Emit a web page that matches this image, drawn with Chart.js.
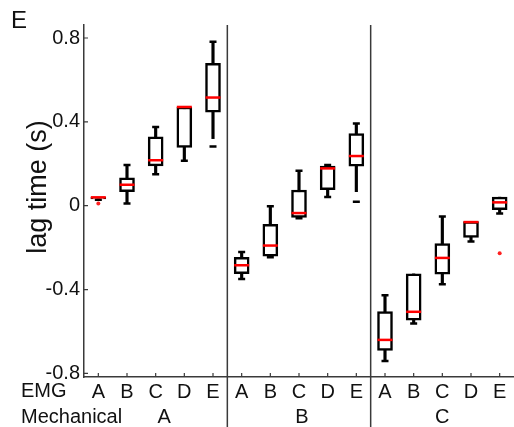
<!DOCTYPE html>
<html>
<head>
<meta charset="utf-8">
<script src="https://cdn.jsdelivr.net/npm/chart.js@4.4.0/dist/chart.umd.min.js"></script>
<style>
  html, body { margin: 0; padding: 0; background: #fff; }
  #wrap { width: 514px; height: 427px; }
</style>
</head>
<body>
<div id="wrap"><canvas id="lagChart" width="514" height="427"></canvas></div>
<script>
// EMG categories, repeated for each mechanical group
const emgLabels = ['A', 'B', 'C', 'D', 'E', 'A', 'B', 'C', 'D', 'E', 'A', 'B', 'C', 'D', 'E'];
const mechLabels = ['A', 'B', 'C'];
const mechCenters = [2.3, 7.1, 12];   // category position of each mechanical label
const groupBreaks = [4.5, 9.5];
const yTicks = [0.8, 0.4, 0, -0.4, -0.8];

// box summaries, lag time (s)
const whiskerLow  = [0.028, 0.01, 0.15, 0.214, 0.32, -0.349, -0.246, -0.06, 0.041, 0.067, -0.741, -0.562, -0.375, -0.171, -0.037];
const boxLow      = [0.032, 0.067, 0.19, 0.278, 0.446, -0.324, -0.241, -0.056, 0.076, 0.189, -0.69, -0.546, -0.327, -0.151, -0.019];
const medians     = [0.04, 0.1, 0.217, 0.471, 0.516, -0.284, -0.19, -0.035, 0.178, 0.237, -0.64, -0.506, -0.249, -0.078, 0.016];
const boxHigh     = [0.04, 0.133, 0.329, 0.471, 0.679, -0.246, -0.089, 0.075, 0.189, 0.344, -0.505, -0.325, -0.181, -0.076, 0.041];
const whiskerHigh = [0.04, 0.194, 0.375, 0.471, 0.782, -0.221, -0.002, 0.167, 0.194, 0.392, -0.427, -0.325, -0.052, -0.076, 0.041];
// caps at the whisker ends (none where the whisker stops short of a dash)
const lowCaps  = [0.028, 0.01, 0.15, 0.214, null, -0.349, -0.246, -0.06, 0.041, null, -0.741, -0.562, -0.375, -0.171, -0.037];
const highCaps = [null, 0.194, 0.375, null, 0.782, -0.221, -0.002, 0.167, 0.194, 0.392, -0.427, null, -0.052, null, null];
const redOutliers   = [0.01, null, null, null, null, null, null, null, null, null, null, null, null, null, -0.227];
const blackOutliers = [null, null, null, null, 0.283, null, null, null, null, 0.019, null, null, null, null, null];

const FONT = '"Liberation Sans", Arial, sans-serif';
const AXIS_COLOR = '#3a3a3a';

// ticks inside, group separators, row labels
const framePlugin = {
  id: 'frame',
  afterDraw(chart) {
    const { ctx, chartArea } = chart;
    const x = chart.scales.x, y = chart.scales.y;
    ctx.save();
    ctx.strokeStyle = AXIS_COLOR;
    ctx.lineWidth = 1.2;
    ctx.beginPath();
    yTicks.forEach(v => {
      const py = y.getPixelForValue(v);
      ctx.moveTo(chartArea.left, py);
      ctx.lineTo(chartArea.left + 4, py);
    });
    emgLabels.forEach((l, i) => {
      const px = x.getPixelForValue(i);
      ctx.moveTo(px, chartArea.bottom);
      ctx.lineTo(px, chartArea.bottom - 4);
    });
    ctx.stroke();

    ctx.lineWidth = 1.5;
    ctx.beginPath();
    groupBreaks.forEach(b => {
      const px = x.getPixelForValue(b);
      ctx.moveTo(px, chartArea.top);
      ctx.lineTo(px, chart.height);
    });
    ctx.stroke();

    ctx.fillStyle = '#111';
    ctx.font = '20px ' + FONT;
    ctx.textBaseline = 'alphabetic';
    ctx.textAlign = 'left';
    ctx.fillText('EMG', 21, 397);
    ctx.fillText('Mechanical', 21, 423);
    ctx.textAlign = 'center';
    mechLabels.forEach((l, i) => ctx.fillText(l, x.getPixelForValue(mechCenters[i]), 423));

    ctx.textAlign = 'left';
    ctx.font = '24px ' + FONT;
    ctx.fillText('E', 11, 28);

    // y axis label
    ctx.translate(46, 187);
    ctx.rotate(-Math.PI / 2);
    ctx.textAlign = 'center';
    ctx.font = '27px ' + FONT;
    ctx.fillText('lag time (s)', 0, 0);
    ctx.restore();
  }
};

const capStyle = {
  type: 'line',
  showLine: false,
  pointStyle: 'line',
  pointRadius: 3.5,
  borderWidth: 2.5,
  borderColor: '#000',
  order: 1
};

const ctx = document.getElementById('lagChart').getContext('2d');
new Chart(ctx, {
  type: 'bar',
  data: {
    labels: emgLabels,
    datasets: [
      {
        type: 'line',
        label: 'median',
        data: medians,
        showLine: false,
        pointStyle: 'line',
        pointRadius: 7.5,
        borderWidth: 2.5,
        borderColor: '#ff0000',
        order: 0
      },
      {
        type: 'line',
        label: 'outliers',
        data: redOutliers,
        showLine: false,
        pointStyle: 'circle',
        pointRadius: 2,
        borderWidth: 0,
        backgroundColor: '#ff2020',
        borderColor: '#ff2020',
        order: 0
      },
      { ...capStyle, label: 'outliers (dash)', data: blackOutliers, order: 0 },
      { ...capStyle, label: 'upper cap', data: highCaps },
      { ...capStyle, label: 'lower cap', data: lowCaps },
      {
        label: 'box',
        data: boxLow.map((v, i) => [v, boxHigh[i]]),
        backgroundColor: '#fff',
        borderColor: '#000',
        borderWidth: 2.5,
        borderSkipped: false,
        barThickness: 15,
        grouped: false,
        order: 2
      },
      {
        label: 'whisker',
        data: whiskerLow.map((v, i) => [v, whiskerHigh[i]]),
        backgroundColor: '#000',
        borderWidth: 0,
        barThickness: 2.5,
        grouped: false,
        order: 3
      }
    ]
  },
  options: {
    responsive: false,
    animation: false,
    events: [],
    layout: { autoPadding: false, padding: { top: 25, right: 0, left: 0, bottom: 0 } },
    plugins: {
      legend: { display: false },
      tooltip: { enabled: false }
    },
    scales: {
      x: {
        offset: true,
        grid: { display: false, drawTicks: false },
        border: { display: true, color: AXIS_COLOR, width: 1.5 },
        ticks: {
          color: '#111',
          padding: 3,
          font: { family: FONT, size: 20 },
          maxRotation: 0,
          autoSkip: false
        },
        afterFit: scale => {
          scale.height = 50;
          scale.paddingLeft = 0;
          scale.paddingRight = 0;
        }
      },
      y: {
        min: -0.817,
        max: 0.862,
        grid: { display: false, drawTicks: false },
        border: { display: true, color: AXIS_COLOR, width: 1.5 },
        afterBuildTicks: scale => { scale.ticks = yTicks.map(v => ({ value: v })); },
        ticks: {
          color: '#111',
          padding: 4,
          font: { family: FONT, size: 20 },
          callback: v => v === 0 ? '0' : v.toFixed(1)
        },
        afterFit: scale => {
          scale.width = 84;
          scale.paddingTop = 0;
          scale.paddingBottom = 0;
        }
      }
    }
  },
  plugins: [framePlugin]
});
</script>
</body>
</html>
